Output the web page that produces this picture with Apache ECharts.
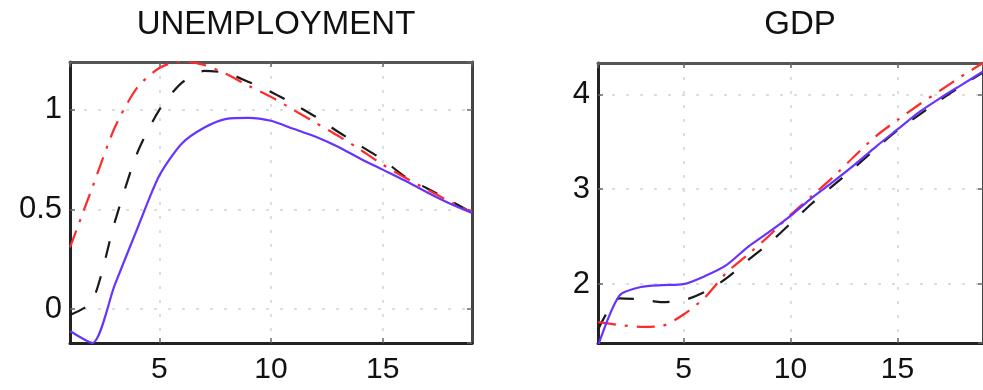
<!DOCTYPE html>
<html><head><meta charset="utf-8">
<script src="https://cdn.jsdelivr.net/npm/echarts@6/dist/echarts.min.js"></script>
<style>html,body{margin:0;padding:0;background:#fff}#c{width:983px;height:390px}</style>
</head><body><div id="c"></div>
<script>
const quarters = [1,2,3,4,5,6,7,8,9,10,11,12,13,14,15,16,17,18,19];
const panelTitles = ['UNEMPLOYMENT', 'GDP'];
const unempRed   = [0.31,0.61,0.91,1.11,1.21,1.245,1.225,1.18,1.12,1.065,1.00,0.935,0.87,0.80,0.725,0.66,0.60,0.54,0.485];
const unempBlack = [-0.03,0.04,0.435,0.78,1.00,1.135,1.195,1.185,1.14,1.09,1.03,0.965,0.89,0.82,0.75,0.665,0.605,0.545,0.485];
const unempBlue  = [-0.11,-0.17,0.12,0.40,0.67,0.83,0.91,0.955,0.96,0.945,0.905,0.865,0.815,0.755,0.70,0.645,0.585,0.53,0.483];
const gdpRed   = [1.60,1.57,1.55,1.56,1.68,1.86,2.12,2.31,2.51,2.73,2.93,3.13,3.35,3.56,3.73,3.89,4.04,4.19,4.33];
const gdpBlack = [1.52,1.85,1.84,1.81,1.83,1.92,2.06,2.25,2.43,2.64,2.85,3.04,3.23,3.43,3.62,3.78,3.94,4.09,4.23];
const gdpBlue  = [1.35,1.88,1.97,1.99,2.00,2.085,2.20,2.39,2.55,2.72,2.91,3.08,3.26,3.45,3.63,3.81,3.96,4.10,4.24];

const FF = '"Liberation Sans", Arial, Helvetica, sans-serif';
const pts = v => quarters.map((q, i) => [q, v[i]]);

const grids = [
  {left: 70, top: 62, width: 402, height: 281},
  {left: 598, top: 63, width: 400, height: 280}
];
const yRanges = [[-0.17, 1.24], [1.38, 4.33]];

const xAxes = [], yAxes = [];
const split = {show: true, lineStyle: {type: [3, 11], color: '#d2d2d2', width: 1.5}};
[0, 1].forEach(g => {
  const xb = {gridIndex: g, type: 'value', min: 1, max: 19, splitNumber: 4};
  xAxes.push(Object.assign({}, xb, {
    position: 'bottom',
    axisLine: {show: true, onZero: false, lineStyle: {color: '#222', width: 3}},
    axisTick: {show: true, inside: true, length: 5, lineStyle: {color: '#666', width: 1.5}},
    axisLabel: {show: true, showMinLabel: false, showMaxLabel: false, fontSize: 30, color: '#111', fontFamily: FF, margin: 12},
    splitLine: split
  }));
  xAxes.push(Object.assign({}, xb, {
    position: 'top',
    axisLine: {show: true, onZero: false, lineStyle: {color: '#555', width: 3}},
    axisTick: {show: true, inside: true, length: 5, lineStyle: {color: '#666', width: 1.5}},
    axisLabel: {show: false}, splitLine: {show: false}
  }));
  const yb = {gridIndex: g, type: 'value', min: yRanges[g][0], max: yRanges[g][1], splitNumber: 3};
  yAxes.push(Object.assign({}, yb, {
    position: 'left',
    axisLine: {show: true, onZero: false, lineStyle: {color: '#222', width: 3}},
    axisTick: {show: true, inside: true, length: 5, lineStyle: {color: '#666', width: 1.5}},
    axisLabel: {show: true, showMinLabel: false, showMaxLabel: false, fontSize: 31, color: '#111', fontFamily: FF, margin: 8},
    splitLine: split
  }));
  yAxes.push(Object.assign({}, yb, {
    position: 'right',
    axisLine: {show: true, onZero: false, lineStyle: {color: '#444', width: 3}},
    axisTick: {show: true, inside: true, length: 5, lineStyle: {color: '#666', width: 1.5}},
    axisLabel: {show: false}, splitLine: {show: false}
  }));
});

const styles = {
  black: {color: '#1a1a1a', width: 2.2, type: [17, 19]},
  red:   {color: '#ff2a2a', width: 2.2, type: [18, 9, 3, 9]},
  blue:  {color: '#6633ff', width: 2.2, type: 'solid'}
};
const panels = [
  {black: unempBlack, red: unempRed, blue: unempBlue},
  {black: gdpBlack, red: gdpRed, blue: gdpBlue}
];
const series = [];
panels.forEach((p, g) => {
  ['black', 'red', 'blue'].forEach(k => {
    series.push({
      type: 'line', xAxisIndex: g * 2, yAxisIndex: g * 2, data: pts(p[k]),
      showSymbol: false, symbol: 'none', clip: true, animation: false,
      smooth: 0.25,
      lineStyle: styles[k], itemStyle: {color: styles[k].color}
    });
  });
});

const centers = [276, 800];
const chart = echarts.init(document.getElementById('c'));
chart.setOption({
  animation: false,
  backgroundColor: '#fff',
  title: panelTitles.map((t, i) => ({
    text: t, left: centers[i], top: 8, textAlign: 'center', padding: 0,
    textStyle: {fontSize: 33, fontWeight: 'normal', color: '#111', fontFamily: FF}
  })),
  grid: grids,
  xAxis: xAxes,
  yAxis: yAxes,
  series: series
});
</script>
</body></html>
